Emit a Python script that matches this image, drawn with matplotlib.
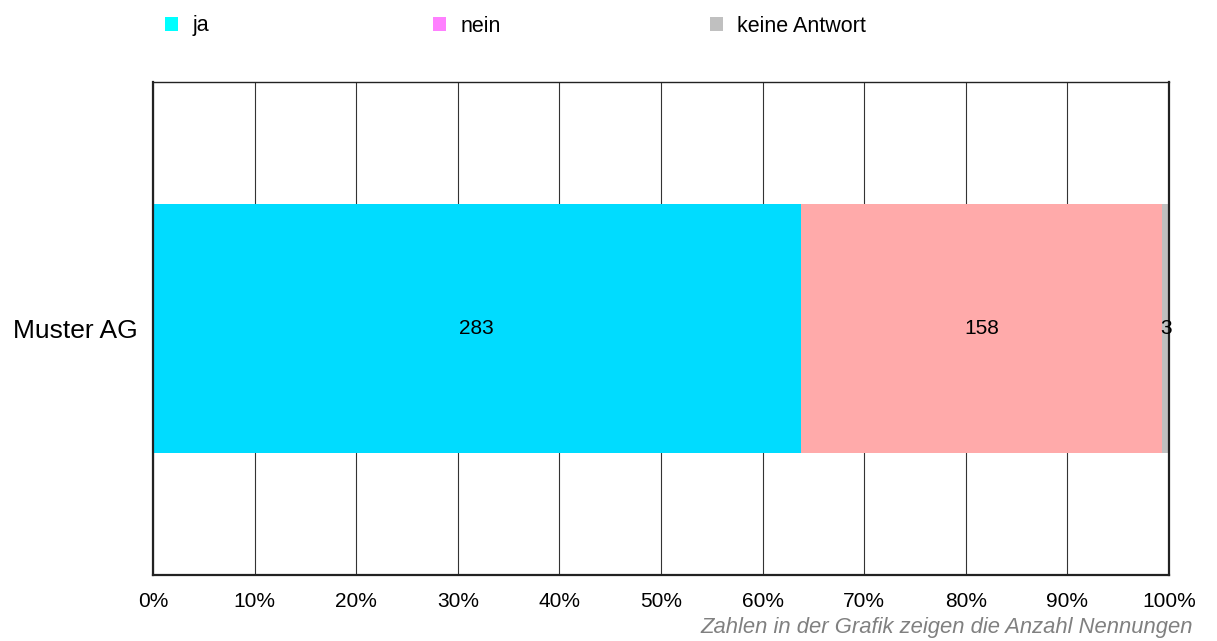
import matplotlib
matplotlib.use("Agg")
import matplotlib.pyplot as plt
from matplotlib.patches import Patch

plt.rcParams['font.family'] = ['Liberation Sans', 'DejaVu Sans']

# Survey data
company = "Muster AG"
answers = ["ja", "nein", "keine Antwort"]
counts = [283, 158, 3]
tick_values = [0, 10, 20, 30, 40, 50, 60, 70, 80, 90, 100]
tick_labels = ["0%", "10%", "20%", "30%", "40%", "50%", "60%", "70%", "80%", "90%", "100%"]
footnote = "Zahlen in der Grafik zeigen die Anzahl Nennungen"

bar_colors = ["#00DCFF", "#FFAAAA", "#C0C0C0"]
legend_colors = ["#00FFFF", "#FF80FF", "#C0C0C0"]

fig = plt.figure(figsize=(12.17, 6.41), dpi=100)
ax = fig.add_axes([153 / 1217, 1 - 575 / 641, (1169 - 153) / 1217, (575 - 82) / 641])

total = sum(counts)
left = 0.0
for n, c in zip(counts, bar_colors):
    share = n / total * 100
    ax.barh(0, share, left=left, height=0.507, color=c, edgecolor="none", zorder=2)
    ax.text(left + share / 2, 0, str(n), ha="center", va="center", fontsize=15, color="black", zorder=3)
    left += share

ax.set_xlim(0, 100)
ax.set_ylim(-0.5, 0.5)
ax.set_xticks(tick_values)
ax.set_xticklabels(tick_labels, fontsize=15)
ax.set_yticks([0])
ax.set_yticklabels([company], fontsize=19)
ax.tick_params(axis="x", length=0, pad=12)
ax.tick_params(axis="y", length=0, pad=11)
ax.grid(axis="x", color="#333333", linewidth=0.8, zorder=1)
ax.set_axisbelow(True)

for side in ["left", "bottom", "right"]:
    ax.spines[side].set_linewidth(1.6)
    ax.spines[side].set_color("#222222")
ax.spines["top"].set_linewidth(1.0)
ax.spines["top"].set_color("#222222")

# Legend entries placed one by one across the top
legend_x = [165 / 1217, 433 / 1217, 710 / 1217]
for lab, col, x in zip(answers, legend_colors, legend_x):
    fig.legend(handles=[Patch(facecolor=col, edgecolor="none", label=lab)],
               loc="center left", bbox_to_anchor=(x, 1 - 26 / 641),
               frameon=False, fontsize=15.5, handlelength=0.62, handleheight=0.62,
               handletextpad=0.65, borderpad=0, borderaxespad=0)

fig.text(1193 / 1217, 1 - 627 / 641, footnote, ha="right", va="center",
         fontsize=15.8, style="italic", color="#808080")

fig.savefig("out.png", dpi=100, facecolor="white")
